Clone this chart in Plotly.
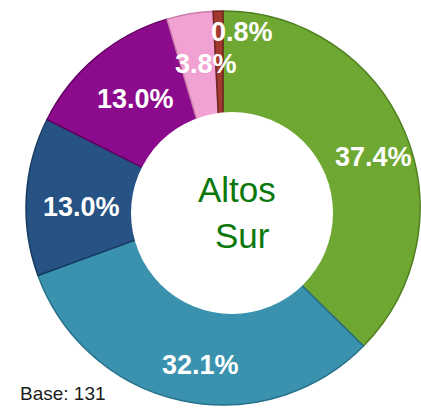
import math
import plotly.graph_objects as go

# Share of respondents by answer, clockwise from 12 o'clock
shares = [37.4, 32.1, 13.0, 13.0, 3.8, 0.8]
slice_colors = ["#6EA832", "#3A92AE", "#265284", "#8C0A8C", "#F2A2D2", "#A23A32"]
edge_colors = ["#4E7E1E", "#26708A", "#173A62", "#640064", "#C97CAB", "#702420"]
center_title = ["Altos", "Sur"]
base_note = "Base: 131"

W, H = 421, 416
cx, cy, radius = 223, 208, 197          # pie centre and outer radius in pixels
hole_cx, hole_cy, hole_r = 232, 213, 101  # white centre disc, set slightly off-centre

fig = go.Figure(go.Pie(
    values=shares,
    sort=False,
    direction="clockwise",
    rotation=0,
    hole=0.45,
    marker=dict(colors=slice_colors, line=dict(color=edge_colors, width=1.5)),
    textinfo="none",
    hoverinfo="skip",
    domain=dict(x=[(cx - radius) / W, (cx + radius) / W],
                y=[1 - (cy + radius) / H, 1 - (cy - radius) / H]),
    showlegend=False,
))

fig.add_shape(type="circle", xref="paper", yref="paper",
              x0=(hole_cx - hole_r) / W, x1=(hole_cx + hole_r) / W,
              y0=1 - (hole_cy + hole_r) / H, y1=1 - (hole_cy - hole_r) / H,
              fillcolor="white", line=dict(width=0))

# value labels placed around the ring at each slice's mid-angle
label_r = 152
nudges = {4: (9, 6), 5: (23, -24)}     # small slices: push label clear of neighbours
total = sum(shares)
cum = 0.0
for i, v in enumerate(shares):
    mid = (cum + v / 2) / total * 2 * math.pi
    cum += v
    dx, dy = nudges.get(i, (10, 8))
    px = cx + label_r * math.sin(mid) + dx
    py = cy - label_r * math.cos(mid) + dy
    fig.add_annotation(x=px / W, y=1 - py / H, xref="paper", yref="paper",
                       text=f"{v:.1f}%", showarrow=False,
                       xanchor="center", yanchor="middle",
                       font=dict(family="Liberation Sans, Arial", size=27, color="white",
                                 weight="bold"))

# centre title
for line, (tx, ty) in zip(center_title, [(237, 190), (242, 235)]):
    fig.add_annotation(x=tx / W, y=1 - ty / H, xref="paper", yref="paper",
                       text=line, showarrow=False, xanchor="center", yanchor="middle",
                       font=dict(family="Liberation Sans, Arial", size=35, color="#0B780B"))

fig.add_annotation(x=18 / W, y=1 - 393 / H, xref="paper", yref="paper",
                   text=base_note, showarrow=False, xanchor="left", yanchor="middle",
                   font=dict(family="Liberation Sans, Arial", size=19, color="#1A1A1A"))

fig.update_layout(width=W, height=H, margin=dict(l=0, r=0, t=0, b=0),
                  paper_bgcolor="white", plot_bgcolor="white")
fig.write_html("out.html")
